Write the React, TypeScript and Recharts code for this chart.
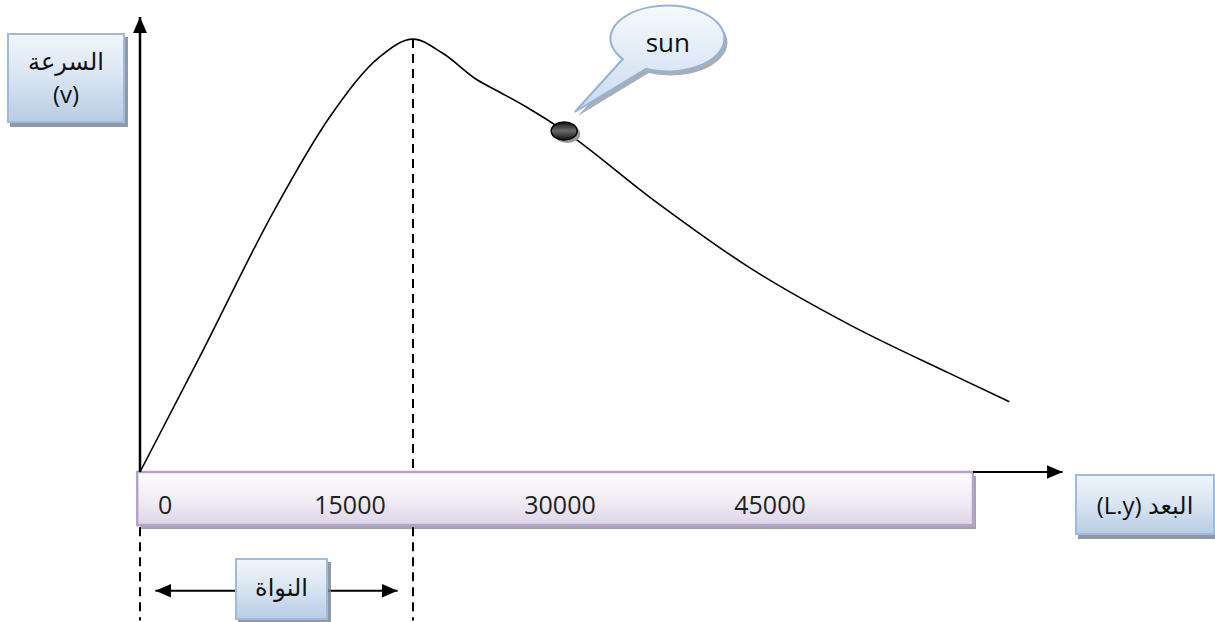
import React from 'react';
import {
  ComposedChart,
  Line,
  Scatter,
  XAxis,
  YAxis,
  ReferenceLine,
  ReferenceArea,
  ReferenceDot,
} from 'recharts';

// ---- data (distance in light years, velocity in arbitrary units) ----
const distanceLy = [
  0, 4300, 9600, 13600, 17100, 19500, 21600, 24100, 25700,
  27600, 30300, 36400, 43600, 50700, 57900, 62100,
];
const velocity = [
  0, 25.8, 58.2, 79.1, 92.2, 96.2, 93.1, 87.1, 84.4,
  81.1, 75.8, 61.1, 45.3, 32.7, 21.8, 15.6,
];
const xTicks = [0, 15000, 30000, 45000];
const sunPoint = [{ x: 30300, v: 75.8 }];
const peakX = 19500;
const peakV = 96.2;
const coreRange = [1100, 18400];
const axisBandEnd = 59500;
const axisArrowEnd = 65900;
const yArrowTop = 101.1;
const bandBottom = -11.8;
const tickRowV = -7.0;
const coreRowV = -26.4;
const chartBottomV = -33;
const calloutCenter = { x: 37700, v: 96 };

const xDomain = [-1000, 67000];
const yDomain = [-33, 102];

const curve = distanceLy.map((x, i) => ({ x, v: velocity[i] }));
const tickData = xTicks.map((t) => ({ x: t, v: tickRowV, label: String(t) }));

const FONT = '"Open Sans", "DejaVu Sans", sans-serif';

const boxStyle: React.CSSProperties = {
  position: 'absolute',
  boxSizing: 'border-box',
  border: '2px solid #9dbbe0',
  background: 'linear-gradient(180deg, #f1f5fb 0%, #dbe6f3 45%, #b9cde5 100%)',
  boxShadow: '3px 4px 0 rgba(120,128,140,0.8)',
  fontFamily: FONT,
  color: '#111',
  display: 'flex',
  flexDirection: 'column',
  alignItems: 'center',
  justifyContent: 'center',
};

const ArrowLine = (dashed: boolean, width: number, start: boolean, end: boolean) =>
  (props: any) => (
    <line
      x1={props.x1}
      y1={props.y1}
      x2={props.x2}
      y2={props.y2}
      stroke="#000"
      strokeWidth={width}
      strokeDasharray={dashed ? '9 6' : undefined}
      markerStart={start ? 'url(#arrowHead)' : undefined}
      markerEnd={end ? 'url(#arrowHead)' : undefined}
    />
  );

const BandShape = (props: any) => (
  <g>
    <rect
      x={props.x + 3}
      y={props.y + 4}
      width={props.width}
      height={props.height}
      fill="#a8a1b4"
    />
    <rect
      x={props.x}
      y={props.y}
      width={props.width}
      height={props.height}
      fill="url(#bandGrad)"
      stroke="#b3a4c9"
      strokeWidth={2.5}
    />
  </g>
);

const TickLabel = (props: any) => {
  const isZero = props.payload && props.payload.x === 0;
  return (
    <text
      x={props.cx}
      y={props.cy}
      dx={isZero ? 18 : 0}
      textAnchor={isZero ? 'start' : 'middle'}
      dominantBaseline="central"
      fontFamily={FONT}
      fontSize={25}
      fill="#222"
    >
      {props.payload ? props.payload.label : ''}
    </text>
  );
};

const SunShape = (props: any) => (
  <g>
    <ellipse cx={props.cx + 3} cy={props.cy + 3} rx={13} ry={9} fill="#9a9a9a" />
    <ellipse
      cx={props.cx}
      cy={props.cy}
      rx={13}
      ry={9}
      fill="url(#sunGrad)"
      stroke="#000"
      strokeWidth={1.5}
    />
  </g>
);

const calloutPath = (cx: number, cy: number) =>
  `M ${cx - 45} ${cy + 19} L ${cx - 93} ${cy + 72} L ${cx - 22} ${cy + 29} ` +
  `A 57 33 0 1 0 ${cx - 45} ${cy + 19} Z`;

const CalloutShape = (props: any) => (
  <g>
    <path d={calloutPath(props.cx + 3, props.cy + 4)} fill="#a9adb5" />
    <path
      d={calloutPath(props.cx, props.cy)}
      fill="url(#calloutGrad)"
      stroke="#95b3d7"
      strokeWidth={2}
    />
    <text
      x={props.cx}
      y={props.cy + 2}
      textAnchor="middle"
      dominantBaseline="central"
      fontFamily={FONT}
      fontSize={26}
      fill="#111"
    >
      sun
    </text>
  </g>
);

export default function App() {
  return (
    <div style={{ position: 'relative', width: 1215, height: 622, background: '#fff', overflow: 'hidden' }}>
      <style>{'body{margin:0}'}</style>
      <ComposedChart
        width={1215}
        height={622}
        margin={{ top: 13, right: 137, bottom: 1.5, left: 126 }}
      >
        <defs>
          <marker
            id="arrowHead"
            markerUnits="userSpaceOnUse"
            markerWidth={17}
            markerHeight={15}
            refX={16}
            refY={7}
            orient="auto-start-reverse"
          >
            <path d="M0,0 L16,7 L0,14 z" fill="#000" />
          </marker>
          <linearGradient id="bandGrad" x1="0" y1="0" x2="0" y2="1">
            <stop offset="0%" stopColor="#fdfcfe" />
            <stop offset="55%" stopColor="#f0ecf5" />
            <stop offset="100%" stopColor="#ddd5e8" />
          </linearGradient>
          <linearGradient id="calloutGrad" x1="0" y1="0" x2="0" y2="1">
            <stop offset="0%" stopColor="#f7fafd" />
            <stop offset="100%" stopColor="#c9daf0" />
          </linearGradient>
          <linearGradient id="sunGrad" x1="0" y1="0" x2="0" y2="1">
            <stop offset="0%" stopColor="#111" />
            <stop offset="50%" stopColor="#6a6a6a" />
            <stop offset="100%" stopColor="#111" />
          </linearGradient>
        </defs>
        <XAxis
          type="number"
          dataKey="x"
          domain={xDomain}
          allowDataOverflow
          hide
        />
        <YAxis type="number" domain={yDomain} allowDataOverflow hide />

        <ReferenceLine
          segment={[{ x: 0, y: 0 }, { x: 0, y: yArrowTop }]}
          shape={ArrowLine(false, 2.5, false, true)}
        />
        <ReferenceLine
          segment={[{ x: peakX, y: peakV }, { x: peakX, y: 0 }]}
          shape={ArrowLine(true, 2, false, false)}
        />
        <ReferenceLine
          segment={[{ x: peakX, y: bandBottom - 0.5 }, { x: peakX, y: chartBottomV }]}
          shape={ArrowLine(true, 2, false, false)}
        />
        <ReferenceLine
          segment={[{ x: 0, y: bandBottom - 0.5 }, { x: 0, y: chartBottomV }]}
          shape={ArrowLine(true, 2, false, false)}
        />
        <ReferenceLine
          segment={[{ x: axisBandEnd, y: 0 }, { x: axisArrowEnd, y: 0 }]}
          shape={ArrowLine(false, 2, false, true)}
        />
        <ReferenceLine
          segment={[{ x: coreRange[0], y: coreRowV }, { x: coreRange[1], y: coreRowV }]}
          shape={ArrowLine(false, 2, true, true)}
        />
        <ReferenceArea
          x1={-200}
          x2={axisBandEnd}
          y1={bandBottom}
          y2={0}
          shape={BandShape}
        />

        <Line
          data={curve}
          dataKey="v"
          type="monotone"
          stroke="#000"
          strokeWidth={1.6}
          dot={false}
          activeDot={false}
          isAnimationActive={false}
        />
        <Scatter data={tickData} dataKey="v" shape={TickLabel} isAnimationActive={false} />
        <Scatter data={sunPoint} dataKey="v" shape={SunShape} isAnimationActive={false} />
        <ReferenceDot
          x={calloutCenter.x}
          y={calloutCenter.v}
          r={0}
          shape={CalloutShape}
        />
      </ComposedChart>

      <div style={{ ...boxStyle, left: 7, top: 33, width: 118, height: 90 }}>
        <div dir="rtl" style={{ fontSize: 24, lineHeight: '32px' }}>السرعة</div>
        <div style={{ fontSize: 24, lineHeight: '34px' }}>(v)</div>
      </div>
      <div style={{ ...boxStyle, left: 1075, top: 474, width: 140, height: 61 }}>
        <div dir="rtl" style={{ fontSize: 24, whiteSpace: 'nowrap' }}>البعد (L.y)</div>
      </div>
      <div style={{ ...boxStyle, left: 235, top: 558, width: 93, height: 62 }}>
        <div dir="rtl" style={{ fontSize: 24, marginTop: -6 }}>النواة</div>
      </div>
    </div>
  );
}
